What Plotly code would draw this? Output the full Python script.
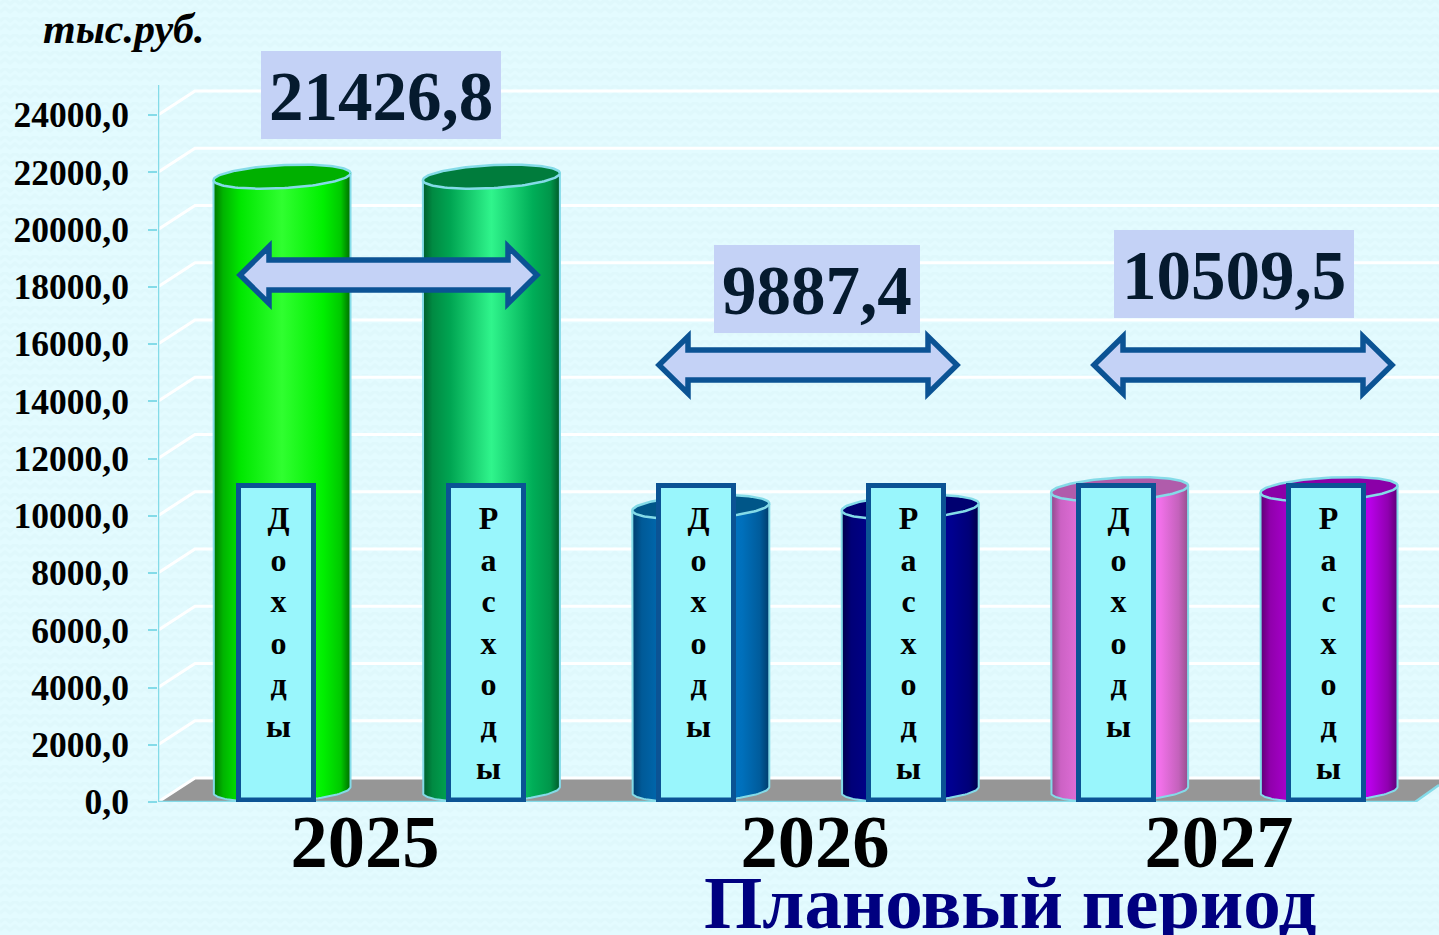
import base64
import numpy as np
import plotly.graph_objects as go

# ---------- data ----------
years = ["2025", "2026", "2027"]
income = [21426.8, 9887.4, 10509.5]
expense = [21426.8, 9887.4, 10509.5]
balance_labels = ["21426,8", "9887,4", "10509,5"]
tick_values = list(range(0, 24001, 2000))
tick_labels = [f"{v},0" for v in tick_values]
income_word = "Доходы"
expense_word = "Расходы"
unit_label = "тыс.руб."
period_label = "Плановый период"

W, H = 1439, 935
L, B = 158, 133
Y0 = H - B
PW, PH = W - L, H - B
K = 687 / 24000            # pixels per value unit
SLOT = 209.4
X0 = 282


def xd(px):
    return (px - X0) / SLOT


def yd(py):
    return (Y0 - py) / K


def xp(px):
    return (px - L) / PW


def yp(py):
    return (Y0 - py) / PH


DEPTH = yd(790)            # floor centre line
RX = 68.5 / SLOT
RY = 11.5 / K
TILT_TOP = 3.5 / K
TILT_BOT = 3 / K

palettes = [
    (["#007400", "#00b400", "#00e800", "#30ff30", "#00f000", "#00c800", "#006c00"], "#00b000"),
    (["#005c2c", "#008a42", "#00a552", "#30f58c", "#00ae58", "#00964a", "#005a2a"], "#007c3c"),
    (["#003c6c", "#005a98", "#0068ae", "#0a7ccc", "#0070bc", "#005c9c", "#003c6c"], "#005688"),
    (["#000048", "#000078", "#000088", "#00009c", "#000090", "#000078", "#000048"], "#000070"),
    (["#8e4a8a", "#cc62c4", "#e06ed8", "#f078ea", "#f070e8", "#c462bc", "#96508e"], "#b05cab"),
    (["#5c0074", "#9000ac", "#a800cc", "#c000f0", "#b800e8", "#9000b0", "#5e0078"], "#8b00a8"),
]
EDGE = "#84dbe8"
NAVY = "#0b5394"
BOXFILL = "#c4d2f6"
CYAN = "#99f6fc"

fig = go.Figure()

# ---------- floor ----------
fig.add_trace(go.Scatter(x=[xd(L), xd(195), xd(W), xd(W), xd(1415), xd(L)],
                         y=[0, yd(779), yd(779), yd(785), 0, 0], mode="lines", fill="toself",
                         fillcolor="#969696", line=dict(width=0),
                         showlegend=False, hoverinfo="skip", name="floor"))

# ---------- back wall gridlines and axis lines ----------
gx, gy = [], []
for v in tick_values:
    gx += [xd(L), xd(195), xd(W), None]
    gy += [v, v + 24 / K, v + 24 / K, None]
fig.add_trace(go.Scatter(x=gx, y=gy, mode="lines", line=dict(color="white", width=3),
                         showlegend=False, hoverinfo="skip", name="grid"))
fig.add_trace(go.Scatter(x=[xd(L), xd(1415), xd(W)], y=[0, 0, yd(785)], mode="lines",
                         line=dict(color=EDGE, width=2.5), showlegend=False, hoverinfo="skip"))
fig.add_trace(go.Scatter(x=[xd(L), xd(L)], y=[0, yd(85)], mode="lines",
                         line=dict(color=EDGE, width=2.5), showlegend=False, hoverinfo="skip"))

# ---------- cylinders ----------
values = []
for a, b in zip(income, expense):
    values += [a, b]
names = []
for y in years:
    names += [f"{income_word} {y}", f"{expense_word} {y}"]

t = np.linspace(0, np.pi, 60)
for i, (val, (cols, topc), nm) in enumerate(zip(values, palettes, names)):
    top = val + DEPTH
    bx = np.concatenate([[i - RX], i - RX * np.cos(t), [i + RX, i - RX]])
    by = np.concatenate([[top - TILT_TOP],
                         DEPTH - RY * np.sin(t) - TILT_BOT * np.cos(t),
                         [top + TILT_TOP, top - TILT_TOP]])
    scale = [[p, c] for p, c in zip([0, 0.07, 0.2, 0.5, 0.8, 0.93, 1], cols)]
    fig.add_trace(go.Scatter(x=bx, y=by, mode="lines", fill="toself",
                             fillgradient=dict(type="horizontal", colorscale=scale),
                             line=dict(color=EDGE, width=2), name=nm,
                             showlegend=False, hoverinfo="skip"))
    a = np.linspace(0, 2 * np.pi, 120)
    fig.add_trace(go.Scatter(x=i + RX * np.cos(a), y=top + RY * np.sin(a) + TILT_TOP * np.cos(a),
                             mode="lines", fill="toself", fillcolor=topc,
                             line=dict(color=EDGE, width=2.5),
                             showlegend=False, hoverinfo="skip", name=nm))

# ---------- shapes: value boxes, arrows, label boxes ----------
shapes = []
value_boxes = [(261, 51, 501, 139), (714, 245, 920, 333), (1114, 230, 1354, 318)]
for x0, y0, x1, y1 in value_boxes:
    shapes.append(dict(type="rect", xref="x", yref="y", x0=xd(x0), x1=xd(x1), y0=yd(y0), y1=yd(y1),
                       fillcolor=BOXFILL, line=dict(width=0), layer="above"))

arrows = [(240, 537, 275), (659, 957, 365), (1094, 1392, 365)]
for a0, a1, cy in arrows:
    hb, hh, sh = 29, 28.5, 15
    pts = [(a0, cy), (a0 + hb, cy - hh), (a0 + hb, cy - sh), (a1 - hb, cy - sh), (a1 - hb, cy - hh),
           (a1, cy), (a1 - hb, cy + hh), (a1 - hb, cy + sh), (a0 + hb, cy + sh), (a0 + hb, cy + hh)]
    path = "M " + " L ".join(f"{xd(px):.5f},{yd(py):.2f}" for px, py in pts) + " Z"
    shapes.append(dict(type="path", xref="x", yref="y", path=path, fillcolor=BOXFILL,
                       line=dict(color=NAVY, width=5.5), layer="above"))

for i in range(6):
    cx = 276 + i * 210
    shapes.append(dict(type="rect", xref="x", yref="y", x0=xd(cx - 37.5), x1=xd(cx + 37.5),
                       y0=yd(800), y1=yd(485.5), fillcolor=CYAN,
                       line=dict(color=NAVY, width=5), layer="above"))

# ---------- annotations ----------
SERIF = "Liberation Serif"
ann = []
for (x0, y0, x1, y1), txt in zip(value_boxes, balance_labels):
    ann.append(dict(x=xd((x0 + x1) / 2), y=yd((y0 + y1) / 2 + 2), xref="x", yref="y", text=f"<b>{txt}</b>",
                    showarrow=False, font=dict(family=SERIF, size=69, color="#051a2e"),
                    xanchor="center", yanchor="middle"))

for i in range(6):
    cx = 278 + i * 210
    word = income_word if i % 2 == 0 else expense_word
    ann.append(dict(x=xd(cx), y=yd(497.5), xref="x", yref="y",
                    text="<b>" + "<br>".join(word) + "</b>", showarrow=False,
                    font=dict(family=SERIF, size=32, color="black"),
                    xanchor="center", yanchor="top", align="center"))

ann.append(dict(x=xp(124), y=yp(29), xref="paper", yref="paper", text=f"<b><i>{unit_label}</i></b>",
                showarrow=False, font=dict(family=SERIF, size=42, color="black"),
                xanchor="center", yanchor="middle"))
ann.append(dict(x=xp(1010), y=yp(902), xref="paper", yref="paper", text=f"<b>{period_label}</b>",
                showarrow=False, font=dict(family=SERIF, size=75, color="#000080"),
                xanchor="center", yanchor="middle"))

# ---------- textured page background ----------
tile = (
    '<svg xmlns="http://www.w3.org/2000/svg" width="1439" height="935">'
    '<defs><pattern id="p" width="20" height="17" patternUnits="userSpaceOnUse">'
    '<rect width="20" height="17" fill="#e3fbff"/>'
    '<path d="M0 4 L5 0 L10 4 L15 0 L20 4 M0 12 L5 8 L10 12 L15 8 L20 12" '
    'fill="none" stroke="#dff8fc" stroke-width="3"/></pattern></defs>'
    '<rect width="1439" height="935" fill="url(#p)"/></svg>'
)
bg = "data:image/svg+xml;base64," + base64.b64encode(tile.encode()).decode()

fig.update_layout(
    width=W, height=H, autosize=False,
    margin=dict(l=L, r=0, t=0, b=B, pad=0),
    paper_bgcolor="#e3fbff", plot_bgcolor="rgba(0,0,0,0)",
    showlegend=False,
    shapes=shapes, annotations=ann,
    images=[dict(source=bg, xref="paper", yref="paper", x=-L / PW, y=1, sizex=W / PW, sizey=H / PH,
                 xanchor="left", yanchor="top", sizing="stretch", layer="below")],
    xaxis=dict(range=[xd(L), xd(W)], showgrid=False, zeroline=False, showline=False,
               tickmode="array", tickvals=[xd(365), xd(815), xd(1219)], ticktext=years,
               ticks="", ticklabelstandoff=-11,
               tickfont=dict(family=SERIF, size=74.5, color="black", weight="bold"),
               fixedrange=True),
    yaxis=dict(range=[0, Y0 / K], showgrid=False, zeroline=False, showline=False,
               tickmode="array", tickvals=tick_values, ticktext=tick_labels,
               ticks="outside", ticklen=9, tickwidth=2, tickcolor=EDGE,
               ticklabelstandoff=12,
               tickfont=dict(family=SERIF, size=35.5, color="black", weight="bold"),
               fixedrange=True),
)

fig.write_html("out.html", config={"displayModeBar": False},
               post_script="document.body.style.margin='0';document.body.style.overflow='hidden';")
